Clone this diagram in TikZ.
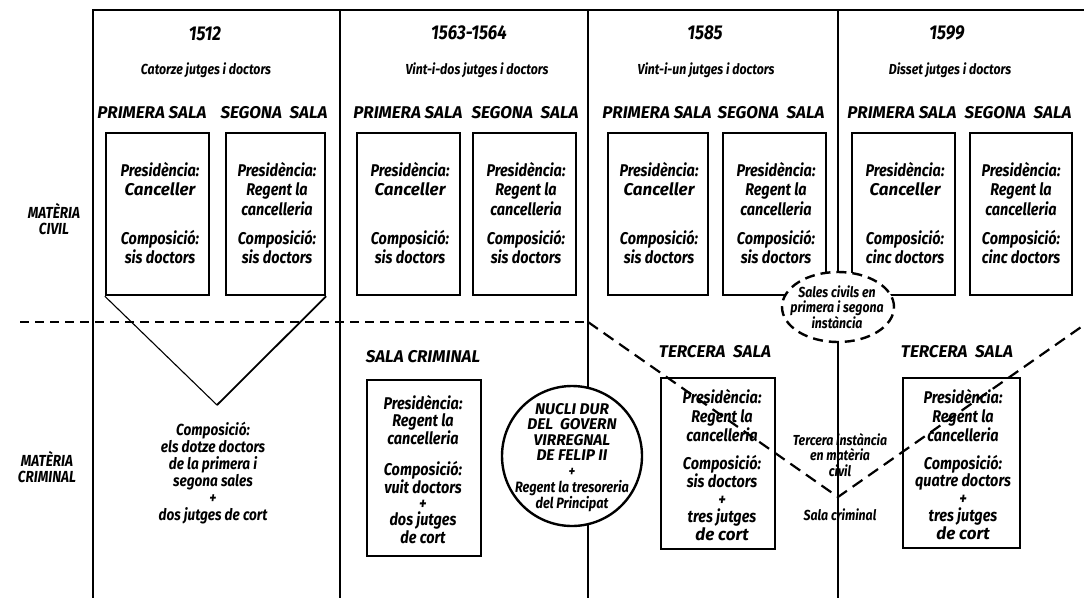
\documentclass[tikz,border=0pt]{standalone}
\usepackage{fontspec}
\setmainfont{Fira Sans}
\newfontfamily\cf{Fira Sans}[FakeStretch=0.85]
\usetikzlibrary{shapes.geometric}
\newcommand\plainit[1]{{\normalfont\bfseries\itshape #1}}
\begin{document}
\begin{tikzpicture}[x=1pt,y=-1pt,
  frame/.style={line width=1.8pt},
  sbox/.style={draw, line width=2.4pt, inner sep=0pt},
  thindash/.style={line width=1.1pt, dash pattern=on 9pt off 6pt},
  thickdash/.style={line width=2.2pt, dash pattern=on 12pt off 7pt},
  body/.style={font=\cf\bfseries\itshape\fontsize{17}{19.5}\selectfont, align=center, inner sep=0pt, anchor=north},
  crim/.style={font=\cf\bfseries\itshape\fontsize{16}{17}\selectfont, align=center, inner sep=0pt, anchor=north},
  crimb/.style={font=\cf\bfseries\itshape\fontsize{17}{#1}\selectfont, align=center, inner sep=0pt, anchor=north},
  capl/.style={font=\bfseries\itshape\fontsize{17}{18}\selectfont, inner sep=0pt},
  yr/.style={font=\cf\bfseries\itshape\fontsize{20}{20}\selectfont, inner sep=0pt},
  sub/.style={font=\cf\bfseries\itshape\fontsize{14.5}{15}\selectfont, inner sep=0pt},
  side/.style={font=\cf\bfseries\itshape\fontsize{16}{16.5}\selectfont, align=center, inner sep=0pt},
  small/.style={font=\cf\bfseries\itshape\fontsize{14.5}{15.5}\selectfont, align=center, inner sep=0pt}
]
\useasboundingbox (0,0) rectangle (1084,598);

% frame
\coordinate (tl) at (93,10);
\coordinate (tr) at (1084,10);
\coordinate (bl) at (93,598);
\coordinate (d1t) at (340,10);
\coordinate (d1b) at (340,598);
\coordinate (d2t) at (588,10);
\coordinate (d2b) at (588,598);
\coordinate (d3t) at (838,10);
\coordinate (d3b) at (838,598);
\draw[frame] (tr) -- (tl) -- (bl);
\draw[frame] (d1t) -- (d1b);
\draw[frame] (d2t) -- (d2b);
\draw[frame] (d3t) -- (d3b);

% dashed separation
\coordinate (dl) at (20,322);
\coordinate (dm) at (588,322);
\coordinate (vx) at (838,497);
\coordinate (dr) at (1084,325);
\draw[thindash] (dl) -- (dm);

% civil boxes
\node[sbox, minimum width=103pt, minimum height=162pt] (c1p) at (157.5,214) {};
\node[sbox, minimum width=99pt, minimum height=162pt] (c1s) at (275.5,214) {};
\node[sbox, minimum width=103pt, minimum height=162pt] (c2p) at (408.5,214) {};
\node[sbox, minimum width=103pt, minimum height=162pt] (c2s) at (524.5,214) {};
\node[sbox, minimum width=100pt, minimum height=162pt] (c3p) at (658,214) {};
\node[sbox, minimum width=103pt, minimum height=162pt] (c3s) at (774.5,214) {};
\node[sbox, minimum width=103pt, minimum height=162pt] (c4p) at (903.5,214) {};
\node[sbox, minimum width=102pt, minimum height=162pt] (c4s) at (1021,214) {};

% triangle of 1512
\coordinate (tv) at (217,405);
\draw[line width=1.1pt] (c1p.south west) -- (tv);
\draw[line width=1.8pt] (c1s.south east) -- (tv);

% criminal boxes
\node[sbox, minimum width=114pt, minimum height=176pt] (k2) at (424,468) {};
\node[sbox, minimum width=114pt, minimum height=171pt] (k3) at (718,463.5) {};
\node[sbox, minimum width=117pt, minimum height=170pt] (k4) at (961.5,463) {};

% diagonals
\draw[thickdash] (dm) -- (vx) -- (dr);

% headers
\node[yr] (y1) at (205,34) {1512};
\node[sub] (s1) at (206,70) {Catorze jutges i doctors};
\node[yr] (y2) at (469,33) {1563-1564};
\node[sub] (s2) at (477,70) {Vint-i-dos jutges i doctors};
\node[yr] (y3) at (705,33) {1585};
\node[sub] (s3) at (706,70) {Vint-i-un jutges i doctors};
\node[yr] (y4) at (947,33) {1599};
\node[sub] (s4) at (950,70) {Disset jutges i doctors};

% sala labels
\node[capl] (l1p) at (152,113) {PRIMERA SALA};
\node[capl] (l1s) at (274,113) {SEGONA\ \ SALA};
\node[capl] (l2p) at (408,113) {PRIMERA SALA};
\node[capl] (l2s) at (525,113) {SEGONA\ \ SALA};
\node[capl] (l3p) at (657,113) {PRIMERA SALA};
\node[capl] (l3s) at (771,113) {SEGONA\ \ SALA};
\node[capl] (l4p) at (902,113) {PRIMERA SALA};
\node[capl] (l4s) at (1018,113) {SEGONA\ \ SALA};

% civil box texts
\node[body] (t1p) at (160,162) {Presidència:\\ \plainit{Canceller}};
\node[body] (u1p) at (160,230) {Composició:\\ sis doctors};
\node[body] (t1s) at (277,162) {Presidència:\\ Regent la\\ cancelleria};
\node[body] (u1s) at (277,230) {Composició:\\ sis doctors};
\node[body] (t2p) at (410,162) {Presidència:\\ \plainit{Canceller}};
\node[body] (u2p) at (410,230) {Composició:\\ sis doctors};
\node[body] (t2s) at (526,162) {Presidència:\\ Regent la\\ cancelleria};
\node[body] (u2s) at (526,230) {Composició:\\ sis doctors};
\node[body] (t3p) at (659,162) {Presidència:\\ \plainit{Canceller}};
\node[body] (u3p) at (659,230) {Composició:\\ sis doctors};
\node[body] (t3s) at (776,162) {Presidència:\\ Regent la\\ cancelleria};
\node[body] (u3s) at (776,230) {Composició:\\ sis doctors};
\node[body] (t4p) at (905,162) {Presidència:\\ \plainit{Canceller}};
\node[body] (u4p) at (905,230) {Composició:\\ cinc doctors};
\node[body] (t4s) at (1021,162) {Presidència:\\ Regent la\\ cancelleria};
\node[body] (u4s) at (1021,230) {Composició:\\ cinc doctors};

% side labels
\node[side] (mc) at (54,219) {MATÈRIA\\CIVIL};
\node[side] (mk) at (47,467) {MATÈRIA\\CRIMINAL};

% criminal texts
\node[crim] (k1t) at (213,422) {Composició:\\ els dotze doctors\\ de la primera i\\ segona sales\\ +\\ dos jutges de cort};
\node[capl] (k2l) at (423,357) {SALA CRIMINAL};
\node[crimb=17] (k2a) at (423,395) {Presidència:\\ Regent la\\ cancelleria};
\node[crimb=16] (k2b) at (423,461) {Composició:\\ vuit doctors\\ +\\ dos jutges\\ de cort};
\node[capl] (k3l) at (715,352) {TERCERA\ \ SALA};
\node[crimb=19] (k3a) at (722,389) {Presidència:\\ Regent la\\ cancelleria};
\node[crimb=17.5] (k3b) at (722,455) {Composició:\\ sis doctors\\ +\\ tres jutges\\ \plainit{de cort}};
\node[capl] (k4l) at (957,352) {TERCERA\ \ SALA};
\node[crimb=19] (k4a) at (963,389) {Presidència:\\ Regent la\\ cancelleria};
\node[crimb=17.5] (k4b) at (963,455) {Composició:\\ quatre doctors\\ +\\ tres jutges\\ \plainit{de cort}};

% middle notes
\node[small] (ti) at (840,455) {Tercera instància\\ en matèria\\ civil};
\node[small] (sc) at (840,515) {Sala criminal};

% nucli circle
\node[circle, draw, line width=2.4pt, fill=white, minimum size=140pt, inner sep=0pt] (nu) at (572,456) {};
\node[font=\bfseries\itshape\fontsize{15.5}{15.5}\selectfont, align=center, inner sep=0pt, anchor=north] (nut) at (572,403) {NUCLI DUR\\ DEL\ \ GOVERN\\ VIRREGNAL\\ DE FELIP II};
\node[font=\cf\bfseries\itshape\fontsize{15}{16}\selectfont, align=center, inner sep=0pt, anchor=north] (nub) at (572,468) {+\\ Regent la tresoreria\\ del Principat};

% ellipse sales civils
\node[ellipse, draw, line width=2.4pt, dash pattern=on 10pt off 6pt, fill=white, minimum width=112pt, minimum height=70pt, inner sep=0pt] (el) at (838,307) {};
\node[small] (elt) at (837,307) {Sales civils en\\ primera i segona\\ instància};
\end{tikzpicture}
\end{document}
